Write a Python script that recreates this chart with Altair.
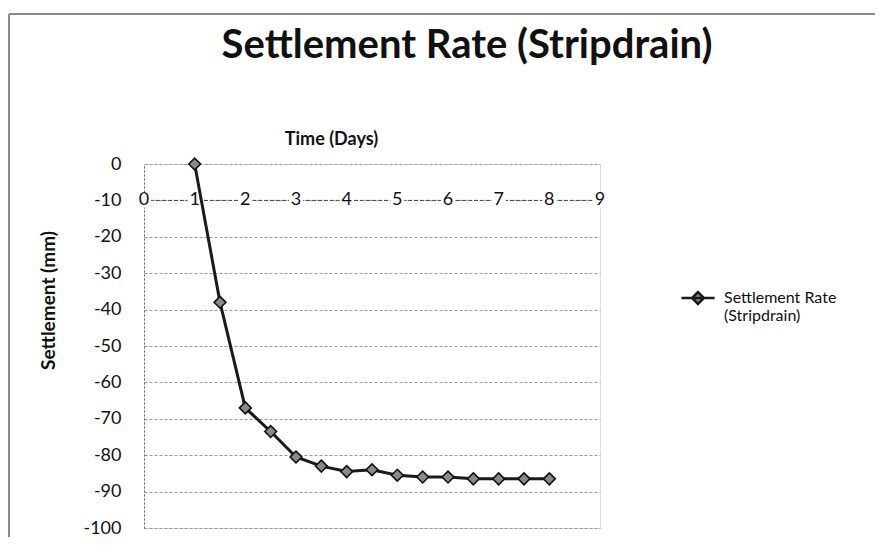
import altair as alt
import pandas as pd

# ---- data ----
days = [1, 1.5, 2, 2.5, 3, 3.5, 4, 4.5, 5, 5.5, 6, 6.5, 7, 7.5, 8]
settlement = [0, -38, -67, -73.5, -80.5, -83, -84.5, -84, -85.5, -86, -86, -86.5, -86.5, -86.5, -86.5]
series_name = "Settlement Rate (Stripdrain)"
x_ticks = [0, 1, 2, 3, 4, 5, 6, 7, 8, 9]
y_ticks = [0, -10, -20, -30, -40, -50, -60, -70, -80, -90, -100]
x_axis_at = -10  # value of the y axis where the time axis crosses

FONT = "Lato"

df = pd.DataFrame({"day": days, "settle": settlement, "series": [series_name] * len(days)})
df_ticks = pd.DataFrame({"day": x_ticks, "settle": [x_axis_at] * len(x_ticks), "lab": [str(t) for t in x_ticks]})
df_axis = pd.DataFrame({"day": [x_ticks[0]], "day2": [x_ticks[-1]], "settle": [x_axis_at]})

X = alt.X(
    "day:Q",
    scale=alt.Scale(domain=[0, 9], nice=False, zero=False),
    axis=alt.Axis(
        orient="top", labels=False, ticks=False, domain=False, grid=False,
        title="Time (Days)", titleFont=FONT, titleFontSize=18, titleFontWeight="bold",
        titleColor="#111", titleX=187, titleY=-25, titleAlign="center", titleBaseline="middle",
    ),
)
Y = alt.Y(
    "settle:Q",
    scale=alt.Scale(domain=[-100, 0], nice=False, zero=False),
    axis=alt.Axis(
        values=y_ticks, ticks=False, labelPadding=23, labelFont=FONT, labelFontSize=18,
        labelExpr="datum.value + ''",
        labelColor="#111", domain=True, domainColor="#666", domainDash=[2, 2], domainWidth=1,
        grid=True, gridColor="#9a9a9a", gridDash=[3, 2], gridWidth=1,
        title="Settlement (mm)", titleFont=FONT, titleFontSize=19, titleFontWeight="bold",
        titleColor="#111", titleX=-96, titleY=136, titleAlign="center", titleBaseline="middle",
    ),
)

axis_rule = alt.Chart(df_axis).mark_rule(color="#444", strokeWidth=1, strokeDash=[4, 2]).encode(
    x=X, x2="day2:Q", y=Y
)
tick_bg = alt.Chart(df_ticks).mark_square(size=200, color="white", opacity=1, filled=True).encode(x=X, y=Y)
tick_txt = alt.Chart(df_ticks).mark_text(font=FONT, fontSize=18, color="#111", baseline="middle").encode(
    x=X, y=Y, text="lab:N"
)

legend_path = "M-1,0L1,0M0,-0.36L0.36,0L0,0.36L-0.36,0Z"

line = alt.Chart(df).mark_line(strokeWidth=3).encode(
    x=X, y=Y,
    color=alt.Color(
        "series:N",
        scale=alt.Scale(range=["#1a1a1a"]),
        legend=alt.Legend(
            title=None, orient="none", legendX=536, legendY=116,
            symbolType=legend_path, symbolSize=1100, symbolStrokeWidth=2.5,
            symbolFillColor="#888", symbolStrokeColor="#222",
            labelExpr="['Settlement Rate', '(Stripdrain)']",
            labelFont=FONT, labelFontSize=16, labelColor="#111", labelOffset=8, labelLimit=300,
        ),
    ),
)
points = alt.Chart(df).mark_point(
    shape="diamond", filled=True, size=140, fill="#8a8a8a", stroke="#111", strokeWidth=1.6, opacity=1
).encode(x=X, y=Y)

frame_left = alt.Chart(df_axis).mark_rule(color="#8a8a8a", strokeWidth=2).encode(
    x=alt.value(-135), y=alt.value(-150), y2=alt.value(380)
)
frame_top = alt.Chart(df_axis).mark_rule(color="#8a8a8a", strokeWidth=2).encode(
    x=alt.value(-135), x2=alt.value(731), y=alt.value(-150)
)

chart = (
    alt.layer(frame_left, frame_top, axis_rule, tick_bg, tick_txt, line, points)
    .properties(
        width=456, height=364,
        title=alt.TitleParams(
            series_name, font=FONT, fontSize=40, fontWeight="bold", color="#111",
            anchor="middle", dx=95, offset=-53,
        ),
        autosize=alt.AutoSizeParams(type="none"),
        padding={"left": 136, "top": 156, "right": 275, "bottom": 9},
    )
    .configure_view(stroke=None)
    .configure(background="white")
)

chart.save("out.html", embed_options={"renderer": "svg", "actions": False})
